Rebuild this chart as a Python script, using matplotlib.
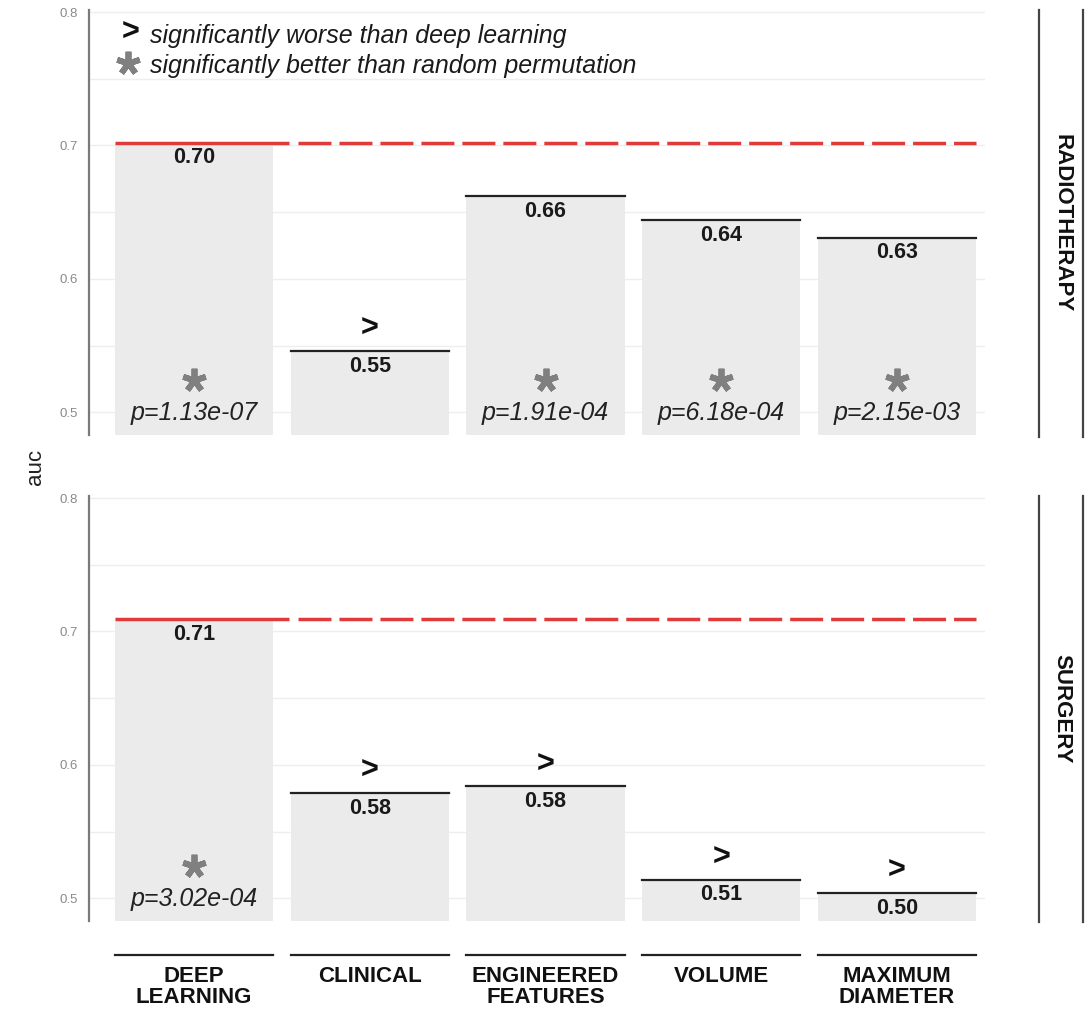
import numpy as np
import matplotlib
matplotlib.use("Agg")
import matplotlib.pyplot as plt
from matplotlib.lines import Line2D
import matplotlib.transforms as mtransforms

plt.rcParams['font.family'] = ['Liberation Sans', 'DejaVu Sans']

# categories and auc per treatment group
categories = ["DEEP\nLEARNING", "CLINICAL", "ENGINEERED\nFEATURES", "VOLUME", "MAXIMUM\nDIAMETER"]
groups = ["RADIOTHERAPY", "SURGERY"]
auc_radio = [0.702, 0.546, 0.662, 0.644, 0.631]
auc_surgery = [0.709, 0.579, 0.584, 0.514, 0.504]

# significance flags and p-values (vs random permutation)
worse_radio = [False, True, False, False, False]
worse_surgery = [False, True, True, True, True]
pval_radio = ["1.13e-07", None, "1.91e-04", "6.18e-04", "2.15e-03"]
pval_surgery = ["3.02e-04", None, None, None, None]

W, H = 1089, 1009
fig = plt.figure(figsize=(W / 100, H / 100), dpi=100)

ylo, yhi = 0.483, 0.8015
xlo, xhi = 0.4026, 5.50
bar_w = 0.9
x = np.arange(1, 6)
star = dict(marker=(5, 2, 0), markersize=17, markeredgewidth=4.2, color='#808080',
            linestyle='none', solid_capstyle='butt')


def px_axes(left, top, right, bottom):
    return fig.add_axes([left / W, 1 - bottom / H, (right - left) / W, (bottom - top) / H])


def draw_panel(ax, vals, worse, pvals):
    ax.set_xlim(xlo, xhi)
    ax.set_ylim(ylo, yhi)
    ax.set_yticks([0.5, 0.6, 0.7, 0.8])
    ax.set_yticklabels(["0.5", "0.6", "0.7", "0.8"])
    ax.set_yticks([0.55, 0.65, 0.75], minor=True)
    ax.grid(axis='y', which='both', color='#eeeeee', lw=1.0)
    ax.set_axisbelow(True)
    ax.tick_params(axis='y', which='both', length=0, labelsize=9.5, labelcolor='#8a8a8a', pad=8)
    ax.set_xticks([])
    for s in ['top', 'right', 'bottom']:
        ax.spines[s].set_visible(False)
    ax.spines['left'].set_color('#7a7a7a')
    ax.spines['left'].set_linewidth(1.6)

    ax.bar(x, [v - ylo for v in vals], bottom=ylo, width=bar_w, color='#ebebeb', zorder=2)
    for i, v in enumerate(vals):
        xi = x[i]
        if i > 0:
            ax.plot([xi - bar_w / 2, xi + bar_w / 2], [v, v], color='#222222', lw=1.6, zorder=3)
        ax.text(xi, v - 0.0035, f"{v:.2f}", ha='center', va='top', fontsize=15.5,
                fontweight='bold', color='#1a1a1a', zorder=4)
        if worse[i]:
            ax.text(xi, v + 0.005, ">", ha='center', va='bottom', fontsize=22,
                    fontweight='bold', color='#111111', zorder=4)
        if pvals[i] is not None:
            ax.plot([xi], [0.524], zorder=4, **star)
            ax.text(xi, 0.4995, f"p={pvals[i]}", ha='center', va='center', fontsize=18,
                    style='italic', color='#222222', zorder=4)

    # deep learning reference line
    ref = vals[0]
    ax.plot([x[0] - bar_w / 2, x[0] + 0.54], [ref, ref], color='#e03a3a', lw=2.5,
            solid_capstyle='butt', zorder=5)
    ax.plot([x[0] + 0.59, x[-1] + bar_w / 2], [ref, ref], color='#e03a3a', lw=2.5,
            dashes=(9.5, 2.3), dash_capstyle='butt', zorder=5)


ax_top = px_axes(89, 10, 985, 435)
ax_bot = px_axes(89, 496, 985, 921)
draw_panel(ax_top, auc_radio, worse_radio, pval_radio)
draw_panel(ax_bot, auc_surgery, worse_surgery, pval_surgery)

# legend notes inside the top panel
ax_top.text(0.046, 0.945, ">", transform=ax_top.transAxes, fontsize=22, fontweight='bold',
            ha='center', va='center', color='#111111')
ax_top.text(0.068, 0.94, "significantly worse than deep learning", transform=ax_top.transAxes,
            fontsize=18, style='italic', ha='left', va='center', color='#1a1a1a')
ax_top.plot([0.043], [0.875], transform=ax_top.transAxes, clip_on=False, **star)
ax_top.text(0.068, 0.868, "significantly better than random permutation", transform=ax_top.transAxes,
            fontsize=18, style='italic', ha='left', va='center', color='#1a1a1a')

# category axis: short rule under each bar, then the label
trans = mtransforms.blended_transform_factory(ax_bot.transData, ax_bot.transAxes)
for i, lab in enumerate(categories):
    xi = x[i]
    ax_bot.plot([xi - bar_w / 2, xi + bar_w / 2], [-0.08, -0.08], transform=trans,
                color='#222222', lw=1.6, clip_on=False)
    ax_bot.text(xi, -0.106, lab, transform=trans, ha='center', va='top', fontsize=16,
                fontweight='bold', color='#111111', linespacing=1.0)

fig.text(35 / W, 1 - 467 / H, "auc", rotation=90, ha='center', va='center', fontsize=16,
         color='#222222')

# facet strips on the right
for (top, bottom), name in zip([(10, 437), (496, 922)], groups):
    for xp in (1039, 1083):
        fig.add_artist(Line2D([xp / W, xp / W], [1 - top / H, 1 - bottom / H],
                              color='#444444', lw=1.6))
    fig.text(1062 / W, 1 - (top + bottom) / 2 / H, name, rotation=270, ha='center',
             va='center', fontsize=16, fontweight='bold', color='#111111')

fig.savefig("out.png", dpi=100)
